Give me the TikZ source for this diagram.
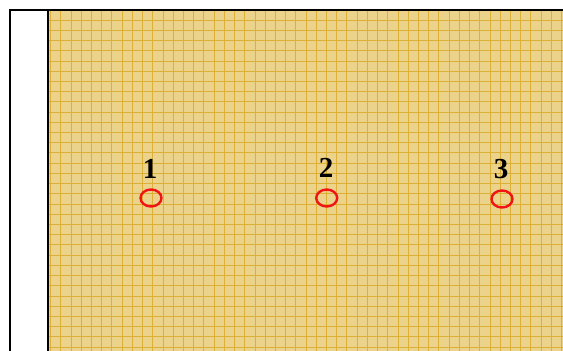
\documentclass[tikz,border=0pt]{standalone}
\usepackage{fontspec}
\setmainfont{Liberation Serif}
\definecolor{paper}{RGB}{235,211,140}
\definecolor{gridc}{RGB}{220,176,55}
\definecolor{ringred}{RGB}{240,20,20}
\tikzset{
  ring/.style={draw=ringred, line width=2.4pt},
  numlabel/.style={font=\bfseries\fontsize{29}{29}\selectfont, inner sep=0pt},
  frameline/.style={draw=black, line width=2pt},
  gridline/.style={draw=gridc, line width=0.8pt},
}
\begin{document}
\begin{tikzpicture}[x=1pt,y=-1pt]
\useasboundingbox (0,0) rectangle (563,351);
% paper background
\fill[paper] (48,10) rectangle (563,351);
% grid
\begin{scope}
\clip (48,10) rectangle (563,351);
\foreach \i in {0,...,51} {
  \draw[gridline] ({50.5+10.22*\i},10) -- ({50.5+10.22*\i},351);
}
\foreach \j in {1,...,34} {
  \draw[gridline] (48,{9.8+10.22*\j}) -- (563,{9.8+10.22*\j});
}
\end{scope}
% frame
\draw[frameline] (10,351) -- (10,10) -- (563,10);
\draw[frameline] (48,10) -- (48,351);
% rings
\draw[ring] (151,198) ellipse (10.5 and 8.5);
\draw[ring] (326.7,198) ellipse (10.5 and 8.5);
\draw[ring] (502,199) ellipse (10.5 and 8.5);
% labels
\node[numlabel] (l1) at (150,169) {1};
\node[numlabel] (l2) at (326,168) {2};
\node[numlabel] (l3) at (501,169) {3};
\end{tikzpicture}
\end{document}
